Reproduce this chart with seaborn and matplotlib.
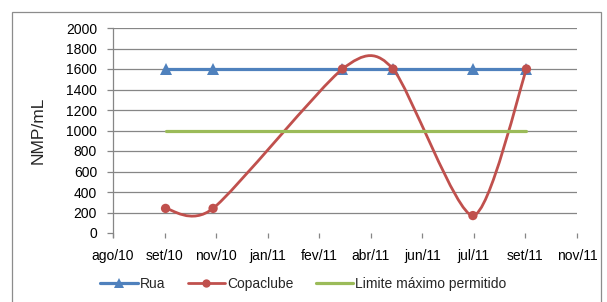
import numpy as np
import pandas as pd
import matplotlib
matplotlib.use("Agg")
import matplotlib.pyplot as plt
import matplotlib.dates as mdates
from matplotlib.path import Path
from matplotlib.patches import PathPatch, Rectangle
from matplotlib.lines import Line2D
import seaborn as sns

# sampling dates and counts (NMP/mL)
sample_dates = ["2010-09-22", "2010-11-08", "2011-03-16", "2011-05-05", "2011-07-23", "2011-09-14"]
rua = [1600, 1600, 1600, 1600, 1600, 1600]
copaclube = [240, 240, 1600, 1600, 170, 1600]
limite = [1000, 1000, 1000, 1000, 1000, 1000]

tick_start = "2010-08-01"
tick_step_days = 51
tick_labels = ["ago/10", "set/10", "nov/10", "jan/11", "fev/11",
               "abr/11", "jun/11", "jul/11", "set/11", "nov/11"]

BLUE = "#4F81BD"
RED = "#C0504D"
GREEN = "#9BBB59"
GRID = "#868686"

df = pd.DataFrame({
    "data": pd.to_datetime(sample_dates),
    "Rua": rua,
    "Copaclube": copaclube,
    "Limite": limite,
})

sns.set_theme(style="white")
plt.rcParams["font.family"] = ["Liberation Sans", "DejaVu Sans"]


def smooth_path(x, y, k=1 / 8):
    # Excel-like smoothed line (cardinal spline as cubic Bezier)
    pts = np.column_stack([x, y]).astype(float)
    n = len(pts)
    verts = [pts[0]]
    codes = [Path.MOVETO]
    for i in range(n - 1):
        p0 = pts[max(i - 1, 0)]
        p1 = pts[i]
        p2 = pts[i + 1]
        p3 = pts[min(i + 2, n - 1)]
        verts += [p1 + (p2 - p0) * k, p2 - (p3 - p1) * k, p2]
        codes += [Path.CURVE4] * 3
    return Path(verts, codes)


fig = plt.figure(figsize=(6.07, 3.02), dpi=100)
ax = fig.add_axes([113 / 607, 1 - 233 / 302, 464 / 607, 205 / 302])

ticks = pd.date_range(tick_start, periods=len(tick_labels), freq=f"{tick_step_days}D")

# Rua
sns.lineplot(data=df, x="data", y="Rua", ax=ax, color=BLUE, lw=2.3,
             marker="^", markersize=8, markeredgewidth=0, zorder=3)

# Copaclube (smoothed)
xnum = mdates.date2num(df["data"])
ax.add_patch(PathPatch(smooth_path(xnum, df["Copaclube"]), facecolor="none",
                       edgecolor=RED, lw=2.0, zorder=4, capstyle="round"))
sns.scatterplot(data=df, x="data", y="Copaclube", ax=ax, color=RED, s=45,
                edgecolor="none", zorder=5)

# Limite máximo permitido
sns.lineplot(data=df, x="data", y="Limite", ax=ax, color=GREEN, lw=2.3, zorder=6)

ax.set_xlim(ticks[0], ticks[-1])
ax.set_ylim(0, 2000)
ax.set_yticks(range(0, 2001, 200))
ax.set_xticks(ticks)
ax.set_xticklabels(tick_labels)
ax.set_xlabel("")
ax.set_ylabel("NMP/mL", fontsize=12.5)
ax.yaxis.set_label_coords(-0.145, 0.5)

for y in range(200, 2001, 200):
    ax.axhline(y, color=GRID, lw=0.9, zorder=1)

for s in ["top", "right", "bottom"]:
    ax.spines[s].set_visible(False)
ax.spines["left"].set_color(GRID)
ax.spines["left"].set_linewidth(0.9)
ax.spines["left"].set_bounds(-40, 2000)

ax.tick_params(axis="y", length=4.5, width=0.9, color=GRID, pad=7, labelsize=10,
               left=True, labelcolor="black")
ax.tick_params(axis="x", length=3.5, width=0.9, color=GRID, pad=8, labelsize=10,
               bottom=True, direction="out", labelcolor="black")

handles = [
    Line2D([], [], color=BLUE, lw=2.3, marker="^", markersize=7, markeredgewidth=0),
    Line2D([], [], color=RED, lw=2.0, marker="o", markersize=6, markeredgewidth=0),
    Line2D([], [], color=GREEN, lw=2.3),
]
fig.legend(handles, ["Rua", "Copaclube", "Limite máximo permitido"],
           loc="center", bbox_to_anchor=(0.50, 1 - 284 / 302), ncol=3,
           frameon=False, fontsize=10, handlelength=2.7, handletextpad=0.15,
           columnspacing=1.6)

fig.add_artist(Rectangle((12 / 607, -0.05), 589 / 607, 1.05 - 12 / 302,
                         transform=fig.transFigure, fill=False,
                         edgecolor="#8c8c8c", lw=0.9))

fig.savefig("out.png", dpi=100)
